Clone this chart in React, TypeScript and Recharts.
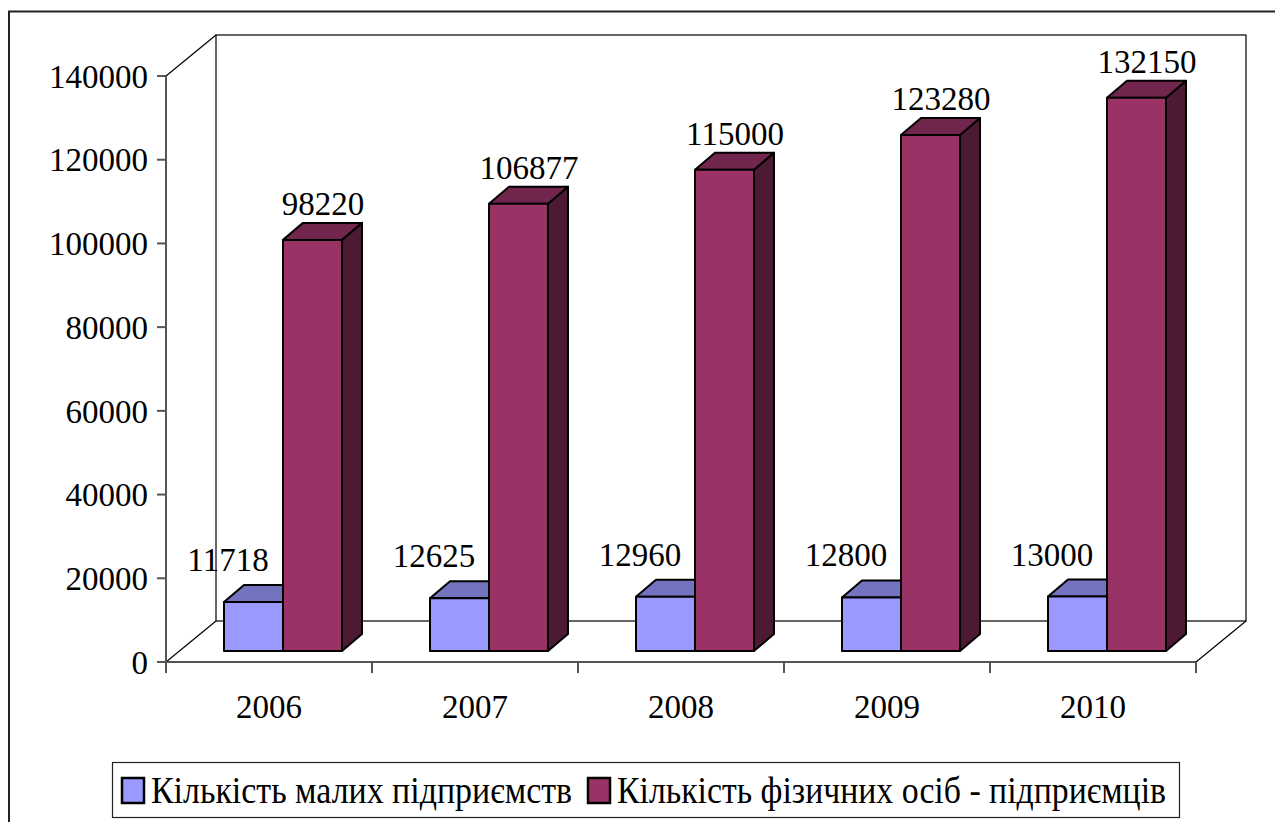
import { Bar, BarChart, LabelList, XAxis, YAxis } from "recharts";

const years = ["2006", "2007", "2008", "2009", "2010"];
const smallEnterprises = [11718, 12625, 12960, 12800, 13000];
const entrepreneurs = [98220, 106877, 115000, 123280, 132150];
const yTicks = [0, 20000, 40000, 60000, 80000, 100000, 120000, 140000];
const seriesNames = [
  "Кількість малих підприємств",
  "Кількість фізичних осіб - підприємців",
];

const W = 1275;
const H = 822;
const FONT = "Liberation Serif, DejaVu Serif, serif";

// plot area (front plane) follows from margins + axis sizes
const MARGIN = { top: 76, right: 79, bottom: 100, left: 0 };
const Y_AXIS_W = 166;
const X_AXIS_H = 60;
const PLOT = {
  left: MARGIN.left + Y_AXIS_W,
  right: W - MARGIN.right,
  top: MARGIN.top,
  bottom: H - MARGIN.bottom - X_AXIS_H,
};

// 3d offsets: wall depth, bar position inside the depth, bar depth
const WALL_DX = 50;
const WALL_DY = -41;
const FACE_DX = 14;
const FACE_DY = -11;
const BAR_DX = 20;
const BAR_DY = -17;

const data = years.map((year, i) => ({
  year,
  small: smallEnterprises[i],
  persons: entrepreneurs[i],
}));

type Palette = { front: string; top: string; side: string };
const bluePalette: Palette = { front: "#9999FF", top: "#7373BF", side: "#4D4D80" };
const redPalette: Palette = { front: "#993366", top: "#73264D", side: "#4D1A33" };

function Box3D(props: any) {
  const { x, y, width, height, palette } = props;
  const fx = Number(x) + FACE_DX;
  const fy = Number(y) + FACE_DY;
  const w = Number(width);
  const h = Number(height);
  const topPts = [
    [fx, fy],
    [fx + BAR_DX, fy + BAR_DY],
    [fx + w + BAR_DX, fy + BAR_DY],
    [fx + w, fy],
  ];
  const sidePts = [
    [fx + w, fy],
    [fx + w + BAR_DX, fy + BAR_DY],
    [fx + w + BAR_DX, fy + h + BAR_DY],
    [fx + w, fy + h],
  ];
  const pts = (p: number[][]) => p.map((q) => q.join(",")).join(" ");
  return (
    <g stroke="#000" strokeWidth={2} strokeLinejoin="round">
      <polygon points={pts(sidePts)} fill={palette.side} />
      <polygon points={pts(topPts)} fill={palette.top} />
      <rect x={fx} y={fy} width={w} height={h} fill={palette.front} />
    </g>
  );
}

function makeLabel(dx: number, dy: number) {
  return (props: any) => {
    const { x, y, value } = props;
    return (
      <text
        x={Number(x) + dx}
        y={Number(y) + dy}
        textAnchor="middle"
        style={{ fontFamily: FONT, fontSize: 33 }}
        fill="#000"
      >
        {value}
      </text>
    );
  };
}

function Backdrop() {
  const band = (PLOT.right - PLOT.left) / years.length;
  const bx = PLOT.left + WALL_DX;
  const topY = PLOT.top + WALL_DY;
  const floorY = PLOT.bottom + WALL_DY;
  const rightX = PLOT.right + WALL_DX;
  return (
    <svg width={W} height={H} style={{ position: "absolute", left: 0, top: 0 }}>
      {/* outer frame */}
      <path d={`M9 ${H} V11.5 H${W}`} fill="none" stroke="#222" strokeWidth={2} />
      {/* walls and floor */}
      <g stroke="#000" strokeWidth={1.2} fill="none">
        <rect x={bx} y={topY} width={rightX - bx} height={floorY - topY} />
        <line x1={PLOT.left} y1={PLOT.top} x2={bx} y2={topY} />
        <line x1={PLOT.left} y1={PLOT.bottom} x2={bx} y2={floorY} />
        <line x1={PLOT.right} y1={PLOT.bottom} x2={rightX} y2={floorY} />
      </g>
      {/* category boundary ticks */}
      <g stroke="#555" strokeWidth={2}>
        {Array.from({ length: years.length + 1 }, (_, i) => (
          <line
            key={i}
            x1={PLOT.left + i * band}
            y1={PLOT.bottom}
            x2={PLOT.left + i * band}
            y2={PLOT.bottom + 11}
          />
        ))}
      </g>
    </svg>
  );
}

function LegendBox() {
  const swatches = [bluePalette.front, redPalette.front];
  const starts = [122, 588];
  const textLens = [421, 549];
  return (
    <svg width={W} height={H} style={{ position: "absolute", left: 0, top: 0, pointerEvents: "none" }}>
      <rect x={112.5} y={762.5} width={1067} height={55} fill="#fff" stroke="#222" strokeWidth={1.2} />
      {seriesNames.map((name, i) => (
        <g key={name}>
          <rect x={starts[i]} y={778} width={22} height={25} fill={swatches[i]} stroke="#000" strokeWidth={2.5} />
          <text
            x={starts[i] + 29}
            y={803}
            style={{ fontFamily: FONT, fontSize: 37 }}
            textLength={textLens[i]}
            lengthAdjust="spacingAndGlyphs"
            fill="#000"
          >
            {name}
          </text>
        </g>
      ))}
    </svg>
  );
}

export default function App() {
  return (
    <div style={{ position: "absolute", left: 0, top: 0, width: W, height: H, overflow: "hidden", background: "#fff", fontFamily: FONT }}>
      <Backdrop />
      <div style={{ position: "absolute", left: 0, top: 0 }}>
        <BarChart
          width={W}
          height={H}
          data={data}
          margin={MARGIN}
          barSize={59}
          barGap={0}
          barCategoryGap={44}
          style={{ fontFamily: FONT }}
        >
          <XAxis
            dataKey="year"
            height={X_AXIS_H}
            tickLine={false}
            tickSize={6}
            tickMargin={27}
            axisLine={{ stroke: "#555", strokeWidth: 2 }}
            tick={{ fontFamily: FONT, fontSize: 33, fill: "#000" }}
          />
          <YAxis
            width={Y_AXIS_W}
            domain={[0, 140000]}
            ticks={yTicks}
            interval={0}
            tickSize={9}
            tickMargin={9}
            axisLine={{ stroke: "#555", strokeWidth: 2 }}
            tickLine={{ stroke: "#555", strokeWidth: 2 }}
            tick={{ fontFamily: FONT, fontSize: 33, fill: "#000" }}
          />
          <Bar
            dataKey="small"
            name={seriesNames[0]}
            isAnimationActive={false}
            shape={(p: any) => <Box3D {...p} palette={bluePalette} />}
          >
            <LabelList dataKey="small" content={makeLabel(18, -42)} />
          </Bar>
          <Bar
            dataKey="persons"
            name={seriesNames[1]}
            isAnimationActive={false}
            shape={(p: any) => <Box3D {...p} palette={redPalette} />}
          >
            <LabelList dataKey="persons" content={makeLabel(54, -36)} />
          </Bar>
        </BarChart>
      </div>
      <LegendBox />
    </div>
  );
}
